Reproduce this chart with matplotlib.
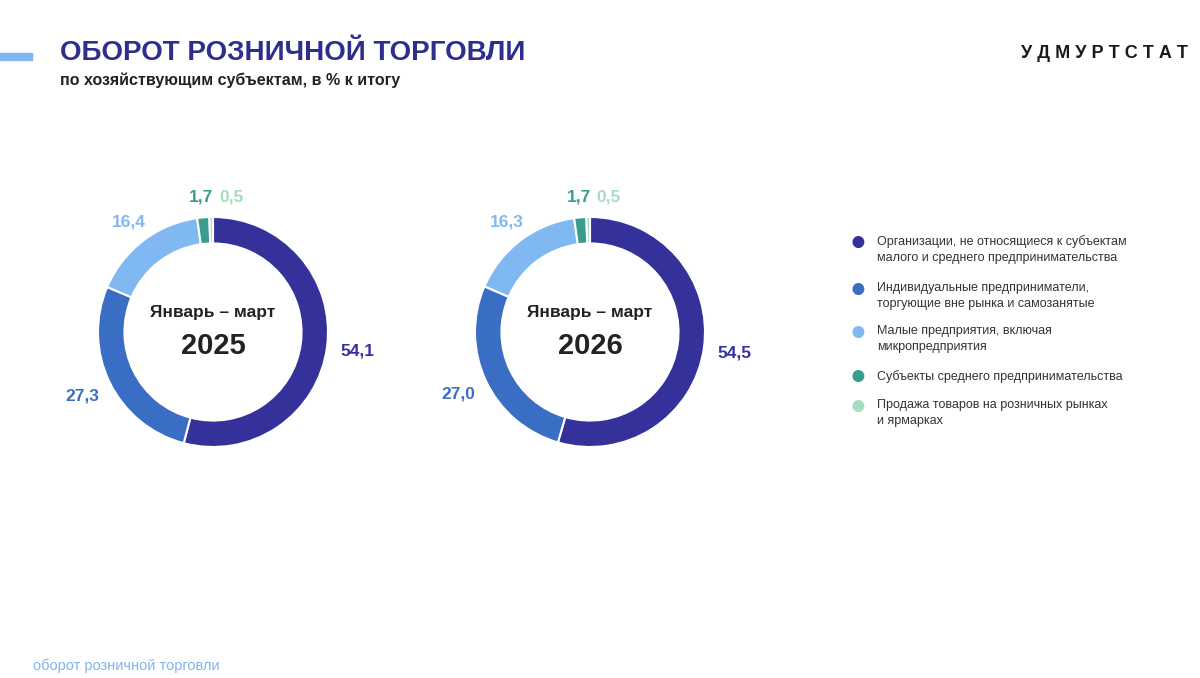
import matplotlib
matplotlib.use("Agg")
import matplotlib.pyplot as plt
import numpy as np
from matplotlib.patches import Rectangle

plt.rcParams['font.family'] = ['Liberation Sans', 'DejaVu Sans']

categories = ["Организации, не относящиеся к субъектам\nмалого и среднего предпринимательства",
              "Индивидуальные предприниматели,\nторгующие вне рынка и самозанятые",
              "Малые предприятия, включая\nмикропредприятия",
              "Субъекты среднего предпринимательства",
              "Продажа товаров на розничных рынках\nи ярмарках"]
vals_2025 = [54.1, 27.3, 16.4, 1.7, 0.5]
vals_2026 = [54.5, 27.0, 16.3, 1.7, 0.5]
years = ["2025", "2026"]
colors = ["#34319a", "#3a6ec4", "#80b8f2", "#3a9c8c", "#a6dcc0"]

fig = plt.figure(figsize=(12, 6.78), dpi=100)
W, H = 1200, 678

def fmt(v):
    return f"{v:.1f}".replace(".", ",")

for vals, year, cx in [(vals_2025, years[0], 213), (vals_2026, years[1], 590)]:
    R = 115
    ax = fig.add_axes([(cx - R) / W, (H - 332 - R) / H, 2 * R / W, 2 * R / H])
    wedges, _ = ax.pie(vals, colors=colors, startangle=90, counterclock=False,
                       wedgeprops=dict(width=0.23, edgecolor="white", linewidth=1.5))
    ax.set_xlim(-1, 1); ax.set_ylim(-1, 1)
    ax.set_aspect("equal")
    for i, (w, v) in enumerate(zip(wedges, vals)):
        ang = np.deg2rad((w.theta1 + w.theta2) / 2)
        if i == 3:
            x, y = -0.1, 1.17
        elif i == 4:
            x, y = 0.16, 1.17
        else:
            r = 1.27 if i < 2 else 1.2
            x, y = r * np.cos(ang), r * np.sin(ang)
        ax.text(x, y, fmt(v), ha="center", va="center", fontsize=12.5,
                fontweight="bold", color=colors[i], clip_on=False)
    ax.text(0, 0.17, "Январь – март", ha="center", va="center", fontsize=12.5,
            fontweight="bold", color="#222222")
    ax.text(0, -0.12, year, ha="center", va="center", fontsize=21,
            fontweight="bold", color="#222222")

# legend
ly = [243, 290, 333, 377, 407]
for c, lab, y in zip(colors, categories, ly):
    fig.text(858 / W, (H - y) / H, "●", color=c, fontsize=20, ha="center", va="center")
    if "\n" in lab:
        fig.text(877 / W, (H - y + 8) / H, lab, fontsize=9, color="#333333",
                 ha="left", va="top", linespacing=1.45)
    else:
        fig.text(877 / W, (H - y) / H, lab, fontsize=9, color="#333333",
                 ha="left", va="center")

fig.add_artist(Rectangle((0, (H - 60) / H), 32 / W, 7 / H, color="#7fb5f0",
                         transform=fig.transFigure))
fig.text(60 / W, (H - 53) / H, "ОБОРОТ РОЗНИЧНОЙ ТОРГОВЛИ", fontsize=20,
         fontweight="bold", color="#2e2f8c", va="center")
fig.text(60 / W, (H - 80) / H, "по хозяйствующим субъектам, в % к итогу", fontsize=11.5,
         fontweight="bold", color="#222222", va="center")
fig.text(1188 / W, (H - 53) / H, "У Д М У Р Т С Т А Т", fontsize=13, fontweight="bold",
         color="#1a1a1a", va="center", ha="right")
fig.text(33 / W, (H - 666) / H, "оборот розничной торговли", fontsize=10.5,
         color="#7fb5f0", va="center")

fig.savefig("out.png", dpi=100, facecolor="white")
